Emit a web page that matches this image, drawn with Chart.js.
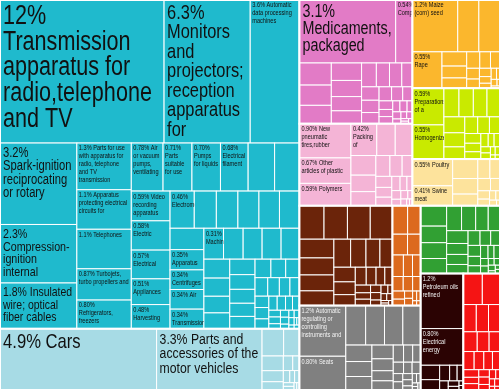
<!DOCTYPE html>
<html>
<head>
<meta charset="utf-8">
<script src="https://cdn.jsdelivr.net/npm/chart.js@4.4.1/dist/chart.umd.min.js"></script>
<style>
  html, body { margin: 0; padding: 0; background: #fff; }
  #wrap { width: 500px; height: 390px; }
</style>
</head>
<body>
<div id="wrap"><canvas id="treemap"></canvas></div>
<script>
// Export shares (%) per product group, largest first
const machinesValues = [12, 6.3, 3.6, 3.2, 2.3, 1.8,
    1.3, 1.1, 1.1, 0.87, 0.80,
    0.78, 0.71, 0.70, 0.68, 0.65, 0.61,
    0.59, 0.58, 0.57, 0.51, 0.48, 0.46,
    0.42, 0.41, 0.40, 0.39, 0.38, 0.37,
    0.35, 0.34, 0.34, 0.34, 0.31,
    0.31, 0.30, 0.30, 0.29,
    0.25, 0.24, 0.22, 0.21, 0.20, 0.19, 0.18, 0.17, 0.16, 0.15, 0.14, 0.13, 0.12, 0.11, 0.10,
    0.09, 0.08, 0.08, 0.07, 0.06, 0.06, 0.05, 0.05, 0.04, 0.04, 0.03, 0.03, 0.03,
    0.02, 0.02, 0.02, 0.02, 0.01, 0.01, 0.01, 0.01];
const machinesNames = ['Transmission apparatus for radio,telephone and TV',
    'Monitors and projectors; reception apparatus for',
    'Automatic data processing machines',
    'Spark-ignition reciprocating or rotary',
    'Compression-ignition internal',
    'Insulated wire; optical fiber cables',
    'Parts for use with apparatus for radio, telephone and TV transmission',
    'Apparatus protecting electrical circuits for',
    'Telephones',
    'Turbojets, turbo propellers and',
    'Refrigerators, freezers',
    'Air or vacuum pumps, ventilating',
    'Parts suitable for use',
    'Pumps for liquids',
    'Electrical filament', '', '',
    'Video recording apparatus', 'Electric', 'Electrical', 'Appliances', 'Harvesting', 'Electromechanical',
    '', '', '', '', '', '',
    'Apparatus', 'Centrifuges', 'Air', 'Transmission', 'Machines'];

const transportValues = [4.9, 3.3, 0.30, 0.22, 0.16, 0.12, 0.09, 0.07, 0.05, 0.04, 0.03, 0.03, 0.02, 0.02, 0.01, 0.01];
const transportNames = ['Cars', 'Parts and accessories of the motor vehicles'];

const chemicalsValues = [3.1, 0.54, 0.36, 0.33, 0.30, 0.27, 0.25, 0.22, 0.20, 0.18, 0.16, 0.15, 0.13, 0.12, 0.11,
    0.10, 0.09, 0.08, 0.07, 0.06, 0.05, 0.05, 0.04, 0.04, 0.03, 0.03, 0.02, 0.02, 0.02, 0.01, 0.01, 0.01];
const chemicalsNames = ['Medicaments, packaged', 'Compounds'];

const plasticsValues = [0.90, 0.67, 0.59, 0.42, 0.30, 0.28, 0.25, 0.21, 0.18, 0.15, 0.13, 0.11, 0.09, 0.08,
    0.07, 0.06, 0.05, 0.04, 0.04, 0.03, 0.03, 0.02, 0.02, 0.01, 0.01];
const plasticsNames = ['New pneumatic tires,rubber', 'Other articles of plastic', 'Polymers', 'Packing of'];

const vegetableValues = [1.2, 0.56, 0.56, 0.55, 0.18, 0.15, 0.13, 0.11, 0.09, 0.08, 0.07, 0.06, 0.05, 0.04,
    0.03, 0.03, 0.02, 0.02, 0.01, 0.01];
const vegetableNames = ['Maize (corn) seed', '', '', 'Rape'];

const foodValues = [0.59, 0.55, 0.22, 0.21, 0.20, 0.19, 0.17, 0.15, 0.13, 0.11, 0.10, 0.09, 0.08, 0.07,
    0.06, 0.05, 0.04, 0.04, 0.03, 0.03, 0.02, 0.02, 0.01, 0.01];
const foodNames = ['Preparations of a', 'Homogenized'];

const animalValues = [0.55, 0.41, 0.25, 0.20, 0.15, 0.12, 0.10, 0.08, 0.06, 0.05, 0.04, 0.03, 0.02, 0.02, 0.01];
const animalNames = ['Poultry', 'Swine meat'];

const metalsValues = [0.42, 0.40, 0.39, 0.38, 0.33, 0.30, 0.28, 0.26, 0.24, 0.22, 0.20, 0.18, 0.16, 0.14,
    0.12, 0.10, 0.09, 0.08, 0.07, 0.06, 0.05, 0.05, 0.04, 0.04, 0.03, 0.03, 0.02, 0.02, 0.02, 0.01, 0.01, 0.01];
const stoneValues = [0.22, 0.19, 0.16, 0.14, 0.12, 0.10, 0.09, 0.08, 0.07, 0.06, 0.05, 0.04, 0.03, 0.03,
    0.02, 0.02, 0.01, 0.01];
const instrumentsValues = [1.2, 0.80, 0.40, 0.38, 0.37, 0.36, 0.22, 0.20, 0.18, 0.15, 0.13, 0.11, 0.10, 0.09,
    0.08, 0.07, 0.06, 0.05, 0.05, 0.04, 0.04, 0.03, 0.03, 0.02, 0.02, 0.02, 0.01, 0.01, 0.01];
const instrumentsNames = ['Automatic regulating or controlling instruments and', 'Seats'];
const textilesValues = [0.27, 0.22, 0.21, 0.20, 0.19, 0.18, 0.16, 0.15, 0.14, 0.12, 0.11, 0.10, 0.09, 0.08,
    0.07, 0.07, 0.06, 0.05, 0.05, 0.04, 0.04, 0.03, 0.03, 0.02, 0.02, 0.02, 0.01, 0.01, 0.01];
const mineralValues = [1.2, 0.80, 0.14, 0.10, 0.08, 0.06, 0.05, 0.04, 0.03, 0.02, 0.01, 0.01];
const mineralNames = ['Petroleum oils refined', 'Electrical energy'];
const footwearValues = [0.30, 0.28, 0.18, 0.17, 0.16, 0.14, 0.12, 0.11, 0.10, 0.09, 0.08, 0.07, 0.06, 0.05,
    0.05, 0.04, 0.04, 0.03, 0.03, 0.02, 0.02, 0.02, 0.01, 0.01];

const groupKeys = ['machines', 'transport', 'chemicals', 'plastics', 'vegetable', 'foodstuffs', 'animal',
    'metals', 'stone', 'instruments', 'textiles', 'mineral', 'footwear'];
const groupColors = ['#1fbacd', '#a7dbe5', '#e27bc6', '#f4b4d6', '#fbb72d', '#c9ea00', '#fde39c',
    '#6b240a', '#dc6a1e', '#808080', '#31a033', '#2b0303', '#f51414'];
const groupValues = [machinesValues, transportValues, chemicalsValues, plasticsValues, vegetableValues,
    foodValues, animalValues, metalsValues, stoneValues, instrumentsValues, textilesValues,
    mineralValues, footwearValues];
const groupNames = [machinesNames, transportNames, chemicalsNames, plasticsNames, vegetableNames,
    foodNames, animalNames, [], [], instrumentsNames, [], mineralNames, []];

// how the groups are nested: 'h' = side by side, 'v' = stacked
const groupTree = ['h',
    ['v', 'machines', 'transport'],
    ['v',
        ['h', ['v', 'chemicals', 'plastics'], ['v', 'vegetable', 'foodstuffs', 'animal']],
        ['h', ['v', ['h', 'metals', 'stone'], 'instruments'], ['v', 'textiles', ['h', 'mineral', 'footwear']]]
    ]
];

const FONT = '"Liberation Sans", Arial, sans-serif';
const SQUEEZE = 0.8;      // horizontal text compression (narrow look)
const BIG_MIN_SHARE = 1.5; // only large shares get the big label
const BIG_MIN_FONT = 12;
const PHI = (1 + Math.sqrt(5)) / 2;

var groups = groupKeys.map(function (key, i) {
    return {
        key: key,
        color: groupColors[i],
        values: groupValues[i],
        names: groupNames[i],
        total: groupValues[i].reduce(function (a, b) { return a + b; }, 0)
    };
});

function groupByKey(key) {
    return groups.find(function (g) { return g.key == key; });
}

function nodeTotal(node) {
    if (typeof node == 'string') return groupByKey(node).total;
    return node.slice(1).reduce(function (s, n) { return s + nodeTotal(n); }, 0);
}

// places the groups inside the rectangle (data units)
function layoutGroups(node, x0, y0, x1, y1) {
    if (typeof node == 'string') {
        groupByKey(node).rect = { x0: x0, y0: y0, x1: x1, y1: y1 };
        return;
    }
    var dir = node[0];
    var kids = node.slice(1);
    var total = nodeTotal(node);
    var pos = dir == 'h' ? x0 : y0;
    kids.forEach(function (kid) {
        var size = nodeTotal(kid) / total * (dir == 'h' ? (x1 - x0) : (y1 - y0));
        if (dir == 'h') layoutGroups(kid, pos, y0, pos + size, y1);
        else layoutGroups(kid, x0, pos, x1, pos + size);
        pos += size;
    });
}

// squarified treemap (golden ratio), like d3.treemapSquarify
function squarify(values, x0, y0, x1, y1) {
    var out = [];
    var value = values.reduce(function (a, b) { return a + b; }, 0);
    var i0 = 0, i1 = 0, n = values.length;
    while (i0 < n) {
        var dx = x1 - x0, dy = y1 - y0;
        var sumValue = values[i1++];
        var minValue = sumValue, maxValue = sumValue;
        var alpha = Math.max(dy / dx, dx / dy) / (value * PHI);
        var beta = sumValue * sumValue * alpha;
        var minRatio = Math.max(maxValue / beta, beta / minValue);
        for (; i1 < n; ++i1) {
            var v = values[i1];
            sumValue += v;
            if (v < minValue) minValue = v;
            if (v > maxValue) maxValue = v;
            beta = sumValue * sumValue * alpha;
            var newRatio = Math.max(maxValue / beta, beta / minValue);
            if (newRatio > minRatio) { sumValue -= v; break; }
            minRatio = newRatio;
        }
        var k, p;
        if (dx < dy) {
            var yy = y0 + dy * sumValue / value;
            p = x0;
            for (k = i0; k < i1; k++) {
                var w = dx * values[k] / sumValue;
                out[k] = { x0: p, y0: y0, x1: p + w, y1: yy };
                p += w;
            }
            y0 = yy;
        } else {
            var xx = x0 + dx * sumValue / value;
            p = y0;
            for (k = i0; k < i1; k++) {
                var h = dy * values[k] / sumValue;
                out[k] = { x0: x0, y0: p, x1: xx, y1: p + h };
                p += h;
            }
            x0 = xx;
        }
        value -= sumValue;
        i0 = i1;
    }
    return out;
}

function formatShare(v) {
    if (v >= 10) return v.toFixed(0) + '%';
    if (v >= 1) return v.toFixed(1) + '%';
    return v.toFixed(2) + '%';
}

function textWidth(ctx, s) {
    return ctx.measureText(s).width * SQUEEZE;
}

// word wrap; with breakHyphens a too-long word may be split after its hyphen
function wrapText(ctx, text, maxW, breakHyphens) {
    var tokens = [];
    text.split(' ').forEach(function (word) {
        if (breakHyphens && textWidth(ctx, word) > maxW && word.indexOf('-') > 0) {
            word.split(/(?<=-)/).forEach(function (part, i) {
                tokens.push({ t: part, sp: i == 0 });
            });
        } else {
            tokens.push({ t: word, sp: true });
        }
    });
    var lines = [];
    var line = '';
    tokens.forEach(function (tk) {
        var cand = line == '' ? tk.t : line + (tk.sp ? ' ' : '') + tk.t;
        if (line != '' && textWidth(ctx, cand) > maxW) {
            lines.push(line);
            line = tk.t;
        } else {
            line = cand;
        }
    });
    if (line != '') lines.push(line);
    return lines;
}

function fitBig(ctx, text, w, h, pad, breakHyphens) {
    for (var size = Math.min(27, h * 0.34); size >= BIG_MIN_FONT; size -= 0.5) {
        ctx.font = size + 'px ' + FONT;
        var ls = wrapText(ctx, text, w - 2 * pad, breakHyphens);
        var okW = ls.every(function (l) { return textWidth(ctx, l) <= w - 2 * pad; });
        if (okW && ls.length * size * 0.95 <= h - 2 * pad) return { size: size, lines: ls };
    }
    return null;
}

function drawLabel(ctx, share, text, left, top, w, h, color) {
    ctx.save();
    ctx.beginPath();
    ctx.rect(left, top, w, h);
    ctx.clip();
    ctx.fillStyle = color;
    ctx.textBaseline = 'top';
    ctx.textAlign = 'left';
    var pad = 3;
    var fit = null;
    if (share >= BIG_MIN_SHARE) {
        fit = fitBig(ctx, text, w, h, pad, false) || fitBig(ctx, text, w, h, pad, true);
    }
    var lines, lh;
    if (fit) {
        ctx.font = fit.size + 'px ' + FONT;
        lines = fit.lines;
        lh = fit.size * 0.95;
    } else {
        pad = 2;
        ctx.font = '7px ' + FONT;
        lines = wrapText(ctx, text, w - 2 * pad, true);
        lh = 8;
    }
    ctx.translate(left + pad, top + pad);
    ctx.scale(SQUEEZE, 1);
    lines.forEach(function (l, i) {
        ctx.fillText(l, 0, i * lh);
    });
    ctx.restore();
}

function isDark(hex) {
    var r = parseInt(hex.substr(1, 2), 16), g = parseInt(hex.substr(3, 2), 16), b = parseInt(hex.substr(5, 2), 16);
    return (0.299 * r + 0.587 * g + 0.114 * b) < 140;
}

// layout in the scale's data space
layoutGroups(groupTree, 0, 0, 500, 390);
groups.forEach(function (g) {
    g.cells = squarify(g.values, g.rect.x0, g.rect.y0, g.rect.x1, g.rect.y1);
});

const treemapPlugin = {
    id: 'treemapCells',
    afterDatasetsDraw: function (chart) {
        var ctx = chart.ctx;
        var xs = chart.scales.x, ys = chart.scales.y;
        function box(r) {
            var l = xs.getPixelForValue(r.x0), rr = xs.getPixelForValue(r.x1);
            var t = ys.getPixelForValue(r.y0), b = ys.getPixelForValue(r.y1);
            return { l: l, t: t, w: rr - l, h: b - t };
        }
        groups.forEach(function (g) {
            ctx.save();
            g.cells.forEach(function (c) {
                var p = box(c);
                ctx.fillStyle = g.color;
                ctx.fillRect(p.l, p.t, p.w, p.h);
                ctx.strokeStyle = '#ffffff';
                ctx.lineWidth = 1;
                ctx.strokeRect(p.l, p.t, p.w, p.h);
            });
            var gp = box(g.rect);
            ctx.strokeStyle = '#ffffff';
            ctx.lineWidth = 2;
            ctx.strokeRect(gp.l, gp.t, gp.w, gp.h);
            ctx.restore();

            var textColor = isDark(g.color) ? '#f2f2f2' : '#111111';
            g.names.forEach(function (name, i) {
                if (!name) return;
                var p = box(g.cells[i]);
                drawLabel(ctx, g.values[i], formatShare(g.values[i]) + ' ' + name, p.l, p.t, p.w, p.h, textColor);
            });
        });
    }
};

const config = {
    type: 'scatter',
    data: { datasets: [{ data: [] }] },
    options: {
        responsive: true,
        maintainAspectRatio: false,
        animation: false,
        layout: { padding: 0 },
        scales: {
            x: { type: 'linear', min: 0, max: 500, display: false },
            y: { type: 'linear', min: 0, max: 390, reverse: true, display: false }
        },
        plugins: {
            legend: { display: false },
            tooltip: { enabled: false }
        }
    },
    plugins: [treemapPlugin]
};

let myChart = new Chart(document.getElementById('treemap'), config);
</script>
</body>
</html>
